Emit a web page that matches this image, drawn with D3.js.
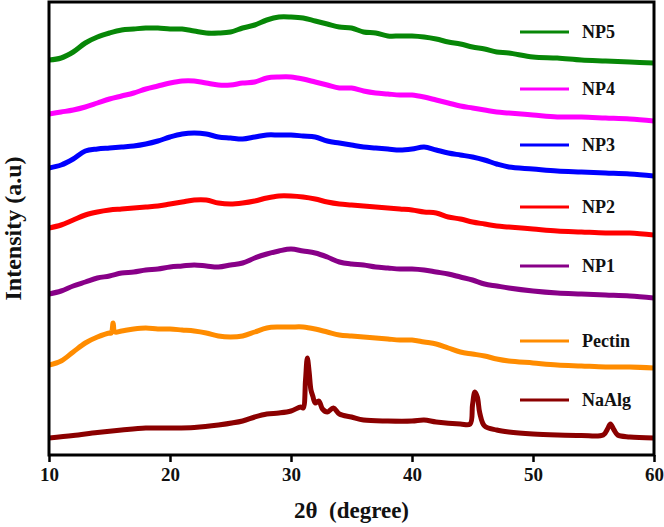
<!DOCTYPE html>
<html>
<head>
<meta charset="utf-8">
<script src="https://cdn.jsdelivr.net/npm/d3@7"></script>
<style>
  html, body { margin: 0; padding: 0; background: #fff; }
  svg { display: block; }
  text { font-family: "Liberation Serif", "Times New Roman", serif; font-weight: bold; fill: #111; }
</style>
</head>
<body>
<svg id="chart" width="664" height="527"></svg>
<script>
// ---- Data (intensities in arbitrary units, stacked offsets) ----
const angles = [10,11,12,13,14,15,16,17,18,19,20,21,22,23,24,25,26,27,28,29,30,31,32,33,34,35,36,37,38,39,40,41,42,43,44,45,46,47,48,50,52,54,56,58,60];

const np5 = [395,397,403,412,418,422,425,426,427,427,426,426,424,422,422,423,427,430,435,438,438,437,434,431,428,427,423,422,419,419,419,418,416,413,411,408,406,403,402,398,397,395,394,393,392];
const np4 = [341,343,345,348,352,356,359,362,366,369,372,374,374,372,370,370,372,373,377,378,378,376,373,370,367,367,364,362,361,360,360,358,355,352,349,347,345,343,342,340,338,338,337,336,334];
const np3 = [287,290,296,304,306,307,308,309,311,314,318,321,322,321,318,317,316,318,320,320,320,319,318,314,312,310,308,307,306,305,306,308,305,302,300,298,295,291,288,286,284,283,282,281,279];
const np2 = [227,230,235,240,243,245,246,247,248,249,251,253,255,255,252,251,252,254,257,259,259,258,256,253,251,250,249,248,247,246,245,243,242,238,236,233,231,229,228,226,224,223,222,222,220];
const np1 = [161,164,169,173,177,179,182,183,185,186,188,189,190,189,188,190,192,197,201,204,206,204,202,198,193,191,190,188,187,186,186,185,183,181,178,175,171,169,167,164,162,161,160,159,157];

const pectinAngles = [10,11,12,13,14,15,15.15,15.3,15.45,16,17,18,19,20,21,22,23,24,25,26,27,28,29,30,31,32,33,34,35,36,37,38,39,40,41,42,43,44,45,46,47,48,50,52,54,56,58,60];
const pectin = [90,94,103,112,118,122,122,132,123,124,126,127,126,126,125,124,122,119,118,119,123,127,128,128,128,126,123,120,119,118,117,116,115,115,113,111,107,103,101,99,96,94,92,90,89,88,88,87];

const naalgAngles = [10,12,14,16,18,20,22,24,26,27,28,29,30,30.8,31.0,31.2,31.35,31.5,31.65,31.8,32.0,32.3,32.6,33,33.5,34,35,36,38,40,41,42,44,44.8,45.0,45.2,45.4,45.6,46,47,48,50,52,54,55.8,56.2,56.4,56.7,57,58,60];
const naalg = [17,19.5,22.5,25,27,27,27.5,30,34,38,41,42,44,48,47,75,97,83,65,59,52,54,46,43,47,41,38,35,34,34,35,33,31,31,50,63,58,42,29,25,23,21,20,19.5,20,27,31,25,20,18,17];

const seriesNames = ["NP5","NP4","NP3","NP2","NP1","Pectin","NaAlg"];
const seriesColors = ["#078707","#ff00ff","#0000ff","#ff0000","#880088","#ff8c00","#8b0000"];
const xTicks = [10,20,30,40,50,60];

// ---- Layout ----
const svg = d3.select("#chart");
const W = 664, H = 527;
const m = {left: 49, right: 10, top: 2, bottom: 72};
const iw = W - m.left - m.right, ih = H - m.top - m.bottom;

const x = d3.scaleLinear().domain([10, 60]).range([m.left, m.left + iw]);
const y = d3.scaleLinear().domain([0, 453]).range([m.top + ih, m.top]);

const series = [
  {name: "NP5", xs: angles, ys: np5},
  {name: "NP4", xs: angles, ys: np4},
  {name: "NP3", xs: angles, ys: np3},
  {name: "NP2", xs: angles, ys: np2},
  {name: "NP1", xs: angles, ys: np1},
  {name: "Pectin", xs: pectinAngles, ys: pectin},
  {name: "NaAlg", xs: naalgAngles, ys: naalg}
];
const color = d3.scaleOrdinal().domain(seriesNames).range(seriesColors);

svg.append("clipPath").attr("id", "clip")
  .append("rect").attr("x", m.left).attr("y", m.top).attr("width", iw).attr("height", ih);

const line = d3.line().x(d => x(d[0])).y(d => y(d[1])).curve(d3.curveCatmullRom.alpha(0.5));

svg.append("g").attr("clip-path", "url(#clip)")
  .selectAll("path").data(series).join("path")
  .attr("d", s => line(s.xs.map((v, i) => [v, s.ys[i]])))
  .attr("fill", "none")
  .attr("stroke", s => color(s.name))
  .attr("stroke-width", 5)
  .attr("stroke-linejoin", "round")
  .attr("stroke-linecap", "round");

// Frame
svg.append("rect")
  .attr("x", m.left).attr("y", m.top).attr("width", iw).attr("height", ih)
  .attr("fill", "none").attr("stroke", "#000").attr("stroke-width", 3);

// X axis
const xAxis = svg.append("g")
  .attr("transform", `translate(0,${m.top + ih})`)
  .call(d3.axisBottom(x).tickValues(xTicks).tickSize(7).tickPadding(6).tickFormat(d3.format("d")));
xAxis.select(".domain").remove();
xAxis.selectAll(".tick line").attr("stroke", "#000").attr("stroke-width", 2.5);
xAxis.selectAll(".tick text")
  .style("font-family", '"Liberation Serif", "Times New Roman", serif')
  .style("font-weight", "bold").style("font-size", "19px").attr("fill", "#111");

// Axis titles
svg.append("text")
  .attr("x", m.left + iw / 2).attr("y", 518)
  .attr("text-anchor", "middle").style("font-size", "23px")
  .attr("xml:space", "preserve")
  .text("2θ  (degree)");

svg.append("text")
  .attr("transform", `translate(21,${m.top + ih / 2}) rotate(-90)`)
  .attr("text-anchor", "middle").style("font-size", "24px")
  .text("Intensity (a.u)");

// Legend (each entry placed next to its curve)
const legendY = [32, 89, 145, 207, 266, 341, 400];
const leg = svg.append("g");
series.forEach((s, i) => {
  leg.append("line")
    .attr("x1", 520).attr("x2", 569)
    .attr("y1", legendY[i]).attr("y2", legendY[i])
    .attr("stroke", color(s.name)).attr("stroke-width", 3);
  leg.append("text")
    .attr("x", 582).attr("y", legendY[i] + 6)
    .style("font-size", "18px")
    .text(s.name);
});
</script>
</body>
</html>
